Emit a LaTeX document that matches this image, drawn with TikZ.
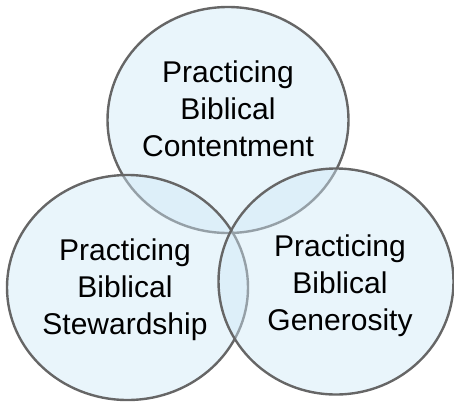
\documentclass[tikz,border=0pt]{standalone}
\usepackage{fontspec}
\setmainfont{Liberation Sans}
\definecolor{vfill}{HTML}{CFE8F7}
\definecolor{vline}{HTML}{666666}
\begin{document}
\begin{tikzpicture}[x=1pt,y=-1pt,
  venn/.style={draw=vline,line width=2.4pt,fill=vfill,fill opacity=0.45,draw opacity=1},
  lbl/.style={align=center,font=\fontsize{30}{37}\selectfont,text=black,inner sep=0pt}]
\useasboundingbox (0,0) rectangle (454,402);
\path[venn] (228,120) ellipse [x radius=120.5,y radius=113];
\path[venn] (127.5,287.5) ellipse [x radius=120.5,y radius=112.5];
\path[venn] (336,281.5) ellipse [x radius=117.5,y radius=113];
\node[lbl] (top) at (228,109) {Practicing\\Biblical\\Contentment};
\node[lbl] (left) at (125,290) {Practicing\\Biblical\\Stewardship};
\node[lbl] (right) at (340,286) {Practicing\\Biblical\\Generosity};
\end{tikzpicture}
\end{document}
